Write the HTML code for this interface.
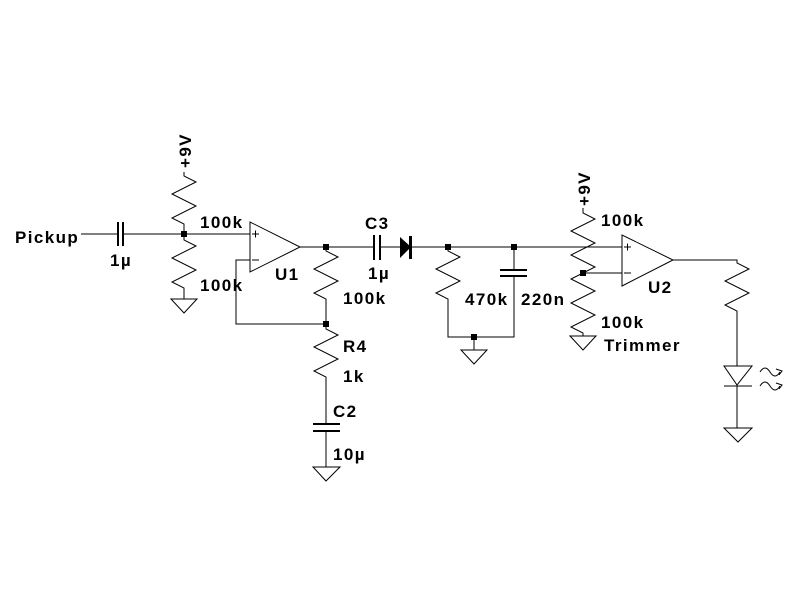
<!DOCTYPE html>
<html><head><meta charset="utf-8"><style>
html,body{margin:0;padding:0;background:#fff}
svg{display:block}
text{font-family:"Liberation Sans",sans-serif;font-weight:bold;font-size:17px;letter-spacing:1.4px;fill:#000}
</style></head><body>
<svg width="800" height="600" viewBox="0 0 800 600" xmlns="http://www.w3.org/2000/svg">
<g fill="none" stroke="#000" stroke-width="1">
<path d="M81 234H118M123 234H250"/>
<path d="M118 222V246M123 222V246" stroke-width="2"/>
<path d="M184 172V176L196 182L172 194L196 206L172 218L184 224V234"/>
<path d="M184 234V240L196 246L172 258L196 270L172 282L184 288V299"/>
<path d="M171 299H197L184 313Z"/>
<path d="M250 222V272L300 247Z"/>
<path d="M252 234H259M255.5 230.5V237.5M252 260H259"/>
<path d="M250 260H236V324H326"/>
<path d="M300 247H374M380 247H400"/>
<path d="M374 235V260M380 235V260" stroke-width="2"/>
<path d="M326 247V251L338 257L314 269L338 281L314 293L326 299V325"/>
<path d="M326 325V329L338 335L314 347L338 359L314 371L326 377V424"/>
<path d="M313 424H340M313 431H340" stroke-width="2"/>
<path d="M326 431V467"/>
<path d="M313 467H340L326 481Z"/>
<path d="M411 247H622"/>
<path d="M448 247V251L460 257L436 269L460 281L436 293L448 299V337H514V276"/>
<path d="M514 247V270"/>
<path d="M500 270H527M500 276H527" stroke-width="2"/>
<path d="M474 337V350"/>
<path d="M461 350H487L474 364Z"/>
<path d="M583 208V213L595 219L571 231L595 243L571 255L595 267L571 279L595 291L571 303L595 315L571 327L583 333V336"/>
<path d="M570 336H596L583 350Z"/>
<path d="M583 273H622"/>
<path d="M622 235V286L673 260Z"/>
<path d="M624 247H631M627.5 243.5V250.5M624 273H631"/>
<path d="M673 260H737V263L749 269L725 281L749 293L725 305L737 311V366"/>
<path d="M724 366H752L737 385Z"/>
<path d="M724 386H752"/>
<path d="M737 386V428"/>
<path d="M724 428H752L738 442Z"/>
<path d="M760 372Q765 364 770 372T780 372M776 369L782 371L779 375"/>
<path d="M760 386Q765 378 770 386T780 386M776 383L782 385L779 389"/>
</g>
<g fill="#000">
<path d="M400 237L411 247L400 258Z"/>
<rect x="409" y="236" width="3" height="23"/>
<rect x="181" y="231" width="6" height="6"/>
<rect x="323" y="244" width="6" height="6"/>
<rect x="323" y="321" width="6" height="6"/>
<rect x="445" y="244" width="6" height="6"/>
<rect x="511" y="244" width="6" height="6"/>
<rect x="471" y="334" width="6" height="6"/>
<rect x="580" y="270" width="6" height="6"/>
</g>
<text x="15" y="243">Pickup</text>
<text x="110" y="266">1µ</text>
<text x="200" y="228">100k</text>
<text x="200" y="291">100k</text>
<text x="275" y="280">U1</text>
<text x="343" y="304">100k</text>
<text x="343" y="352">R4</text>
<text x="343" y="382">1k</text>
<text x="333" y="417">C2</text>
<text x="333" y="460">10µ</text>
<text x="365" y="229">C3</text>
<text x="368" y="279">1µ</text>
<text x="465" y="305">470k</text>
<text x="521" y="305">220n</text>
<text x="601" y="226">100k</text>
<text x="601" y="328">100k</text>
<text x="604" y="351">Trimmer</text>
<text x="648" y="293">U2</text>
<text transform="translate(191,168) rotate(-90)">+9V</text>
<text transform="translate(590,206) rotate(-90)">+9V</text>
</svg>
</body></html>
